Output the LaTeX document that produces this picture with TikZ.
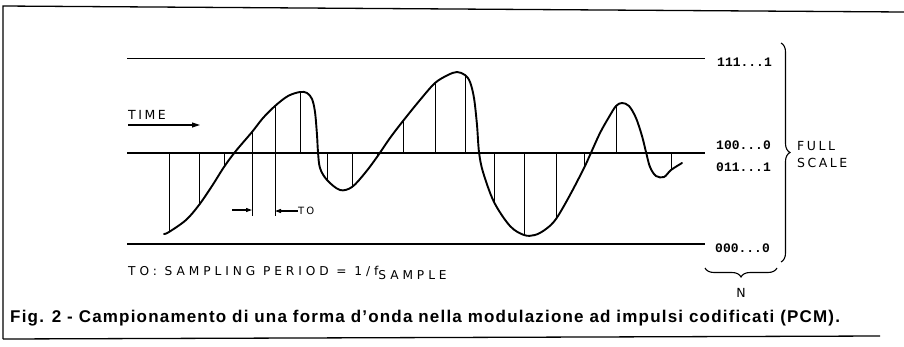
\documentclass[tikz,border=0pt]{standalone}
\usepackage{fontspec}
\setmainfont{Liberation Sans}
\newfontfamily\digitfont{Liberation Mono}
\newfontfamily\capsfont[LetterSpace=20]{DejaVu Sans}
\newfontfamily\capswide[LetterSpace=32]{DejaVu Sans}
\newfontfamily\captionfont[LetterSpace=7]{Liberation Sans}
\usetikzlibrary{arrows.meta,positioning,calc,decorations.pathreplacing}

\begin{document}
\begin{tikzpicture}[
    x=1pt, y=-1pt,
    frame/.style={line width=1.3pt},
    level/.style={line width=1.2pt},
    wave/.style={line width=1.9pt, line join=round, line cap=round},
    sample/.style={line width=0.8pt},
    code/.style={anchor=west, inner sep=0pt, font=\digitfont\bfseries\fontsize{13}{14}\selectfont},
    caps/.style={inner sep=0pt, font=\capsfont\fontsize{12.5}{17}\selectfont},
    edge/.style={-{Triangle[length=8pt,width=5pt]}, line width=1.1pt},
    brc/.style={decorate, decoration={brace, amplitude=9pt}, line width=1.1pt}
]
\useasboundingbox (0,0) rectangle (904,346);

\draw[frame] (3,339) -- (3,6) -- (904,12);
\draw[frame] (3,339) -- (880,336);

\node[code] (c111) at (717,62) {111...1};
\node[code] (c100) at (716,145) {100...0};
\node[code] (c011) at (716,167) {011...1};
\node[code] (c000) at (715,248) {000...0};

\coordinate (top0) at (127,58.5);
\coordinate (top1) at (705,58.5);
\coordinate (mid0) at (127,153);
\coordinate (mid1) at (705,153);
\coordinate (bot0) at (127,244);
\coordinate (bot1) at (705,244);
\draw[level] (top0) -- (top1);
\draw[level] (mid0) -- (mid1);
\draw[level] (bot0) -- (bot1);

\foreach \sx/\sy in {169/232, 199/205, 224/167, 252/132, 275/106, 300/92,
    327/180, 352/187, 377/157, 403/121, 435/83, 465/75, 494/202, 524/235,
    556/219, 584/168, 616/106, 671/170}
  \draw[sample] (\sx,153) -- (\sx,\sy);

\draw[wave] plot[smooth, tension=0.55] coordinates {
    (164,234) (169,232) (186,220) (199,205) (212,186) (224,167) (235,152)
    (252,132) (263,118) (275,106) (288,96) (300,92) (307,93) (312,99)
    (315,112) (317,135) (318,152) (320,168) (327,180) (340,190) (352,187)
    (365,173) (377,157) (390,138) (403,121) (420,100) (435,83) (448,75)
    (457,72) (465,75) (470,82) (474,98) (477,125) (479,152) (483,172)
    (494,202) (510,226) (524,235) (535,235) (546,229) (556,219) (570,195)
    (584,168) (590,155) (600,133) (609,117) (616,106) (622,103) (629,106)
    (636,118) (642,136) (646,152) (650,167) (656,176) (664,177) (671,170)
    (682,163)};

\node[caps, anchor=south west, font=\capsfont\fontsize{12.5}{14}\selectfont] (time) at (128,120) {TIME};
\coordinate[below=5pt of time.south west] (timeA);
\draw[edge] (timeA) -- ++(72,0);

\coordinate (tA) at (252,216);
\coordinate (tB) at (275,216);
\draw[sample] (252,153) -- (tA);
\draw[sample] (275,153) -- (tB);
\coordinate (tAl) at (232,210);
\draw[edge, -{Triangle[length=6pt,width=4pt]}] (tAl) -- (tA |- tAl);
\node[caps, anchor=west, font=\capsfont\fontsize{10}{12}\selectfont] (tolbl) at (298,211) {TO};
\draw[edge, -{Triangle[length=6pt,width=4pt]}] (tolbl.west) -- (tB |- tolbl.west);

\coordinate (fsT) at (781,43);
\coordinate (fsB) at (781,262);
\draw[brc] (fsT) -- (fsB);
\node[caps, anchor=west, align=left] (fs) at (797,155) {FULL\\SCALE};

\coordinate (nR) at (777,268);
\coordinate (nL) at (705,268);
\draw[brc] (nR) -- (nL);
\node[caps] (nlbl) at (741,293) {N};

\node[anchor=base west, inner sep=0pt, font=\capswide\fontsize{12.2}{14}\selectfont] (period) at (128,275)
    {TO: SAMPLING PERIOD = 1/f\raisebox{-4pt}{SAMPLE}};

\node[anchor=base west, inner sep=0pt, font=\captionfont\bfseries\fontsize{17}{19}\selectfont] (caption) at (10,322)
    {Fig. 2 - Campionamento di una forma d’onda nella modulazione ad impulsi codificati (PCM).};
\end{tikzpicture}
\end{document}
